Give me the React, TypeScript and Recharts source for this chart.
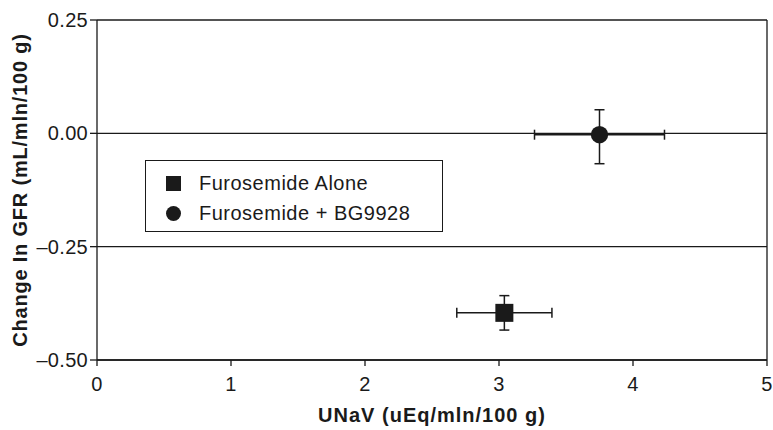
import {
  ScatterChart,
  Scatter,
  XAxis,
  YAxis,
  CartesianGrid,
  ErrorBar,
  ReferenceLine,
  Legend,
} from 'recharts';

// 数据：UNaV (x) 与 GFR 变化 (y)，两组
const seriesNames = ['Furosemide Alone', 'Furosemide + BG9928'];
const unav = [3.04, 3.75];
const gfrChange = [-0.396, -0.003];
const unavErr = [0.355, 0.485];
const gfrErrLow = [0.038, 0.064];
const gfrErrHigh = [0.038, 0.055];

const xTicks = [0, 1, 2, 3, 4, 5];
const yTicks = [-0.5, -0.25, 0, 0.25];

const INK = '#1a1a1a';
const FONT = "'Liberation Sans', Arial, Helvetica, sans-serif";

const makePoint = (i: number) => [
  {
    x: unav[i],
    y: gfrChange[i],
    ex: unavErr[i],
    ey: [gfrErrLow[i], gfrErrHigh[i]],
  },
];

const aloneData = makePoint(0);
const comboData = makePoint(1);

const SquareShape = (props: any) => (
  <rect x={props.cx - 9} y={props.cy - 9} width={18} height={18} fill={INK} />
);

const CircleShape = (props: any) => <circle cx={props.cx} cy={props.cy} r={8.7} fill={INK} />;

const formatY = (v: number) => (v < 0 ? '\u2013' + Math.abs(v).toFixed(2) : v.toFixed(2));

const tickStyle = { fill: INK, fontSize: 20, fontFamily: FONT, letterSpacing: 0.3 };

const LegendBox = () => (
  <div style={{ padding: '7px 0 0 20px', fontFamily: FONT, fontSize: 20, letterSpacing: 0.5, color: INK }}>
    {seriesNames.map((name, i) => (
      <div key={name} style={{ display: 'flex', alignItems: 'center', height: 30 }}>
        <span
          style={{
            display: 'inline-block',
            width: 15,
            height: 15,
            marginRight: 18,
            background: INK,
            borderRadius: i === 1 ? '50%' : 0,
          }}
        />
        <span>{name}</span>
      </div>
    ))}
  </div>
);

export default function App() {
  return (
    <div style={{ position: 'absolute', left: 0, top: 0, background: '#fff' }}>
      <ScatterChart width={773} height={430} margin={{ top: 20, right: 6, bottom: 0, left: 0 }}>
        <CartesianGrid vertical={false} stroke={INK} strokeWidth={1.3} />
        <XAxis
          type="number"
          dataKey="x"
          domain={[0, 5]}
          ticks={xTicks}
          height={70}
          tickSize={6}
          tickMargin={11}
          tick={tickStyle}
          axisLine={{ stroke: INK, strokeWidth: 1.3 }}
          tickLine={{ stroke: INK, strokeWidth: 1.3 }}
          label={{
            value: 'UNaV (uEq/mln/100 g)',
            position: 'insideBottom',
            offset: 8,
            fill: INK,
            fontSize: 20,
            fontWeight: 700,
            fontFamily: FONT,
            letterSpacing: 1,
          }}
        />
        <YAxis
          type="number"
          dataKey="y"
          domain={[-0.5, 0.25]}
          ticks={yTicks}
          width={97}
          tickSize={7}
          tickMargin={2}
          tickFormatter={formatY}
          tick={tickStyle}
          axisLine={{ stroke: INK, strokeWidth: 1.3 }}
          tickLine={{ stroke: INK, strokeWidth: 1.3 }}
          label={{
            value: 'Change In GFR (mL/mln/100 g)',
            angle: -90,
            position: 'insideLeft',
            offset: 20,
            fill: INK,
            fontSize: 20,
            fontWeight: 700,
            fontFamily: FONT,
            letterSpacing: 0.8,
            style: { textAnchor: 'middle' },
          }}
        />
        <ReferenceLine x={5} stroke={INK} strokeWidth={1.3} />
        <Legend
          layout="vertical"
          align="center"
          verticalAlign="middle"
          wrapperStyle={{
            left: 145,
            top: 160,
            width: 298,
            height: 72,
            border: `1px solid ${INK}`,
            boxSizing: 'border-box',
            background: '#fff',
          }}
          content={() => <LegendBox />}
        />
        <Scatter
          name={seriesNames[0]}
          data={aloneData}
          shape={SquareShape}
          isAnimationActive={false}
        >
          <ErrorBar dataKey="ex" direction="x" width={5} stroke={INK} strokeWidth={1.5} />
          <ErrorBar dataKey="ey" direction="y" width={5} stroke={INK} strokeWidth={1.5} />
        </Scatter>
        <Scatter
          name={seriesNames[1]}
          data={comboData}
          shape={CircleShape}
          isAnimationActive={false}
        >
          <ErrorBar dataKey="ex" direction="x" width={5} stroke={INK} strokeWidth={1.5} />
          <ErrorBar dataKey="ey" direction="y" width={5} stroke={INK} strokeWidth={1.5} />
        </Scatter>
      </ScatterChart>
    </div>
  );
}
